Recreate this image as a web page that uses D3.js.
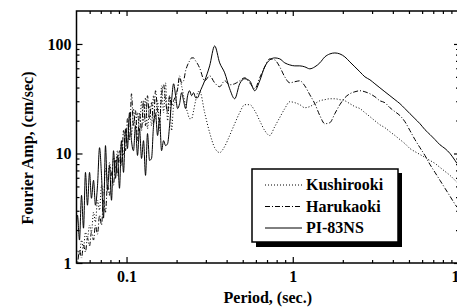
<html>
  <head>
    <meta charset="utf-8" />
    <title>Fourier Amplitude Spectra</title>
    <script src="https://d3js.org/d3.v7.min.js"></script>
    <style>
      body { margin: 0; background: #fff; }
      text { font-family: "Liberation Serif", "Times New Roman", serif; font-weight: bold; }
    </style>
  </head>
  <body>
    <div id="figure"></div>

    <script type="text/javascript">
      // periods (sec.) for the noisy short-period part, shared by all three records
      var periodsLow = [
        0.0493, 0.0507, 0.0521, 0.0536, 0.0551, 0.0566, 0.0582, 0.0599, 0.0615, 0.0633,
        0.0650, 0.0669, 0.0688, 0.0707, 0.0727, 0.0747, 0.0768, 0.0790, 0.0812, 0.0835,
        0.0858, 0.0882, 0.0907, 0.0932, 0.0959, 0.0986, 0.1013, 0.1042, 0.1071, 0.1101,
        0.1132, 0.1164, 0.1197, 0.1231, 0.1265, 0.1301, 0.1337, 0.1375, 0.1414, 0.1453,
        0.1494, 0.1537, 0.1580, 0.1624, 0.1670, 0.1717, 0.1766, 0.1815, 0.1866, 0.1919,
        0.1973, 0.2028, 0.2085, 0.2144, 0.2204, 0.2266, 0.2330, 0.2395, 0.2463, 0.2532,
        0.2603, 0.2676, 0.2751
      ];
      // periods for the smoother long-period part
      var periodsHigh = [
        0.2951, 0.3162, 0.3389, 0.3633, 0.3894, 0.4173, 0.4473, 0.4794, 0.5139, 0.5508,
        0.5903, 0.6327, 0.6782, 0.7269, 0.7791, 0.8351, 0.8951, 0.9592, 1.028, 1.102,
        1.181, 1.266, 1.357, 1.455, 1.559, 1.671, 1.791, 1.920, 2.058, 2.205,
        2.364, 2.534, 2.716, 2.911, 3.119, 3.343, 3.583, 3.840, 4.117, 4.412,
        4.729, 5.068, 5.432, 5.823, 6.241, 6.689, 7.169, 7.684, 8.237, 8.829,
        9.461, 9.727
      ];

      // Fourier amplitude (cm/sec)
      var kushiroLow = [
        1.11, 1.31, 1.18, 1.62, 1.37, 1.91, 1.69, 2.22, 1.91, 2.91,
        2.36, 3.74, 3.03, 5.12, 4.15, 7.31, 5.69, 8.28, 6.31, 9.20,
        7.31, 10.6, 8.28, 12.6, 9.59, 16.2, 12.6, 22.2, 14.6, 25.7,
        16.8, 23.6, 16.2, 30.3, 19.1, 32.3, 16.8, 27.3, 17.9, 33.7,
        20.8, 30.3, 16.2, 41.5, 23.6, 44.2, 19.9, 33.7, 16.2, 27.3,
        30.3, 39.0, 48.1, 41.5, 33.7, 27.3, 23.6, 20.8, 20.8, 24.6,
        30.3, 35.9, 37.4
      ];
      var kushiroHigh = [
        23.6, 15.5, 11.3, 10.2, 11.6, 14.6, 18.7, 23.6, 27.9, 27.9,
        24.6, 19.9, 16.2, 14.6, 17.6, 21.3, 25.7, 29.7, 29.1, 27.9,
        26.2, 26.8, 28.5, 30.3, 31.0, 31.6, 31.6, 31.0, 30.3, 28.5,
        26.8, 25.7, 23.6, 21.7, 19.9, 18.3, 17.2, 15.8, 14.6, 13.4,
        12.3, 11.1, 10.4, 9.79, 9.20, 8.64, 8.11, 7.46, 6.86, 6.31,
        5.69, 5.45
      ];

      var harukaLow = [
        1.18, 1.02, 1.31, 1.11, 1.46, 1.26, 1.69, 1.43, 1.91, 1.62,
        2.22, 1.83, 2.73, 2.22, 3.74, 2.91, 5.12, 4.15, 6.72, 5.12,
        8.64, 6.31, 10.6, 7.78, 16.2, 10.6, 20.8, 13.1, 35.1, 17.9,
        24.6, 13.1, 23.6, 16.2, 30.3, 17.9, 33.7, 20.8, 29.1, 19.1,
        37.4, 24.6, 19.9, 33.7, 42.4, 30.3, 23.6, 33.7, 27.3, 30.3,
        33.7, 39.0, 51.2, 44.2, 46.1, 56.9, 64.4, 70.1, 74.6, 74.6,
        70.1, 65.8, 60.5
      ];
      var harukaHigh = [
        46.1, 51.2, 44.2, 40.7, 46.1, 42.4, 43.3, 46.1, 49.1, 44.2,
        39.0, 49.1, 61.8, 73.1, 71.5, 61.8, 50.1, 44.2, 45.2, 46.1,
        41.5, 34.4, 28.5, 22.2, 18.7, 19.1, 23.1, 27.9, 32.3, 35.1,
        36.6, 37.4, 36.6, 35.1, 33.0, 30.3, 29.1, 26.2, 24.1, 22.2,
        19.5, 16.2, 13.4, 11.3, 9.59, 7.94, 6.72, 5.69, 4.81, 4.07,
        3.44, 3.23
      ];

      var piLow = [
        1.46, 2.73, 1.62, 4.15, 2.08, 6.72, 3.37, 6.72, 3.90, 5.69,
        3.37, 5.12, 11.3, 6.31, 2.57, 11.8, 4.61, 7.78, 3.74, 10.6,
        5.93, 9.59, 4.81, 13.1, 6.72, 16.8, 11.1, 23.6, 13.1, 10.6,
        17.9, 9.59, 16.8, 9.01, 13.1, 6.31, 15.2, 8.64, 9.01, 17.9,
        23.1, 14.6, 20.8, 10.6, 13.1, 11.8, 12.3, 17.9, 30.3, 43.3,
        33.7, 25.7, 28.5, 35.9, 30.3, 25.7, 33.7, 37.4, 33.7, 35.9,
        32.3, 32.3, 35.9
      ];
      var piHigh = [
        46.1, 63.1, 95.9, 67.2, 54.5, 39.0, 31.6, 43.3, 48.1, 46.1,
        37.4, 46.1, 61.8, 71.5, 74.6, 73.1, 67.2, 64.4, 63.1, 63.1,
        61.8, 59.3, 61.8, 67.2, 76.2, 81.1, 82.8, 81.1, 76.2, 68.6,
        61.8, 55.7, 50.1, 47.1, 43.3, 39.8, 36.6, 33.7, 31.0, 28.5,
        25.7, 23.1, 20.8, 18.7, 16.5, 14.9, 13.4, 12.0, 11.1, 10.0,
        8.64, 8.11
      ];

      var seriesNames = ["Kushirooki", "Harukaoki", "PI-83NS"];
      var seriesDash = ["1,2", "5,2,1,2", null];

      var xMajor = [0.1, 1, 10];
      var xMinor = [0.06, 0.07, 0.08, 0.09, 0.2, 0.3, 0.4, 0.5, 0.6, 0.7, 0.8, 0.9,
                    2, 3, 4, 5, 6, 7, 8, 9];
      var yMajor = [1, 10, 100];
      var yMinor = [2, 3, 4, 5, 6, 7, 8, 9, 20, 30, 40, 50, 60, 70, 80, 90];

      var width = 457;
      var height = 307;
      var plotLeft = 76.5, plotRight = 459, plotTop = 11, plotBottom = 263;

      var svg = d3
        .select("#figure")
        .append("svg")
        .attr("width", width)
        .attr("height", height);

      var x = d3.scaleLog().domain([0.05, 10]).range([plotLeft, plotRight]);
      var y = d3.scaleLog().domain([1, 200]).range([plotBottom, plotTop]);

      var periods = periodsLow.concat(periodsHigh);
      var series = [
        kushiroLow.concat(kushiroHigh),
        harukaLow.concat(harukaHigh),
        piLow.concat(piHigh)
      ];

      svg.append("clipPath").attr("id", "plot")
        .append("rect")
        .attr("x", plotLeft).attr("y", plotTop)
        .attr("width", plotRight - plotLeft).attr("height", plotBottom - plotTop);

      var line = d3
        .line()
        .x(function (d, i) { return x(periods[i]); })
        .y(function (d) { return y(d); })
        .curve(d3.curveMonotoneX);

      svg.append("g")
        .attr("clip-path", "url(#plot)")
        .selectAll("path")
        .data(series)
        .enter()
        .append("path")
        .attr("d", line)
        .attr("fill", "none")
        .attr("stroke", "#000")
        .attr("stroke-width", 1)
        .attr("stroke-dasharray", function (d, i) { return seriesDash[i]; });

      // axes: ticks point inward
      function noLabel() { return ""; }

      svg.append("g")
        .attr("transform", "translate(0," + plotBottom + ")")
        .call(d3.axisBottom(x).tickValues(xMajor).tickSize(-6).tickSizeOuter(0)
          .tickPadding(8).tickFormat(function (d) { return d; }));
      svg.append("g")
        .attr("transform", "translate(0," + plotBottom + ")")
        .call(d3.axisBottom(x).tickValues(xMinor).tickSize(-3).tickSizeOuter(0).tickFormat(noLabel));
      svg.append("g")
        .attr("transform", "translate(0," + plotTop + ")")
        .call(d3.axisTop(x).tickValues(xMajor).tickSize(-5).tickSizeOuter(0).tickFormat(noLabel));
      svg.append("g")
        .attr("transform", "translate(0," + plotTop + ")")
        .call(d3.axisTop(x).tickValues(xMinor).tickSize(-3).tickSizeOuter(0).tickFormat(noLabel));

      svg.append("g")
        .attr("transform", "translate(" + plotLeft + ",0)")
        .call(d3.axisLeft(y).tickValues(yMajor).tickSize(-6).tickSizeOuter(0)
          .tickPadding(5).tickFormat(function (d) { return d; }));
      svg.append("g")
        .attr("transform", "translate(" + plotLeft + ",0)")
        .call(d3.axisLeft(y).tickValues(yMinor).tickSize(-3).tickSizeOuter(0).tickFormat(noLabel));
      svg.append("g")
        .attr("transform", "translate(" + plotRight + ",0)")
        .call(d3.axisRight(y).tickValues(yMajor).tickSize(-5).tickSizeOuter(0).tickFormat(noLabel));
      svg.append("g")
        .attr("transform", "translate(" + plotRight + ",0)")
        .call(d3.axisRight(y).tickValues(yMinor).tickSize(-3).tickSizeOuter(0).tickFormat(noLabel));

      svg.selectAll(".domain").remove();
      svg.selectAll(".tick line").attr("stroke", "#000").attr("stroke-width", 1.2);
      svg.selectAll(".tick text")
        .attr("fill", "#000")
        .style("font-family", '"Liberation Serif", "Times New Roman", serif')
        .style("font-weight", "bold")
        .style("font-size", "16px");

      svg.append("rect")
        .attr("x", plotLeft).attr("y", plotTop)
        .attr("width", plotRight - plotLeft).attr("height", plotBottom - plotTop)
        .attr("fill", "none")
        .attr("stroke", "#000")
        .attr("stroke-width", 1.5);

      // axis titles
      svg.append("text")
        .attr("x", (plotLeft + plotRight) / 2)
        .attr("y", 303)
        .attr("text-anchor", "middle")
        .style("font-size", "16px")
        .text("Period, (sec.)");

      svg.append("text")
        .attr("transform", "translate(33,148) rotate(-90)")
        .attr("text-anchor", "middle")
        .style("font-size", "16px")
        .text("Fourier Amp, (cm/sec)");

      // legend with drop shadow
      var legend = svg.append("g");
      legend.append("rect")
        .attr("x", 256).attr("y", 173)
        .attr("width", 146).attr("height", 74)
        .attr("fill", "#000");
      legend.append("rect")
        .attr("x", 252).attr("y", 169)
        .attr("width", 146).attr("height", 73)
        .attr("fill", "#fff")
        .attr("stroke", "#000")
        .attr("stroke-width", 1.5);

      var rows = legend.selectAll("g.row")
        .data(seriesNames)
        .enter()
        .append("g")
        .attr("class", "row")
        .attr("transform", function (d, i) { return "translate(0," + (185 + i * 21.5) + ")"; });

      rows.append("line")
        .attr("x1", 265).attr("x2", 302)
        .attr("stroke", "#000")
        .attr("stroke-width", 1)
        .attr("stroke-dasharray", function (d, i) { return seriesDash[i]; });

      rows.append("text")
        .attr("x", 306)
        .attr("y", 5)
        .style("font-size", "16px")
        .text(function (d) { return d; });
    </script>
  </body>
</html>
